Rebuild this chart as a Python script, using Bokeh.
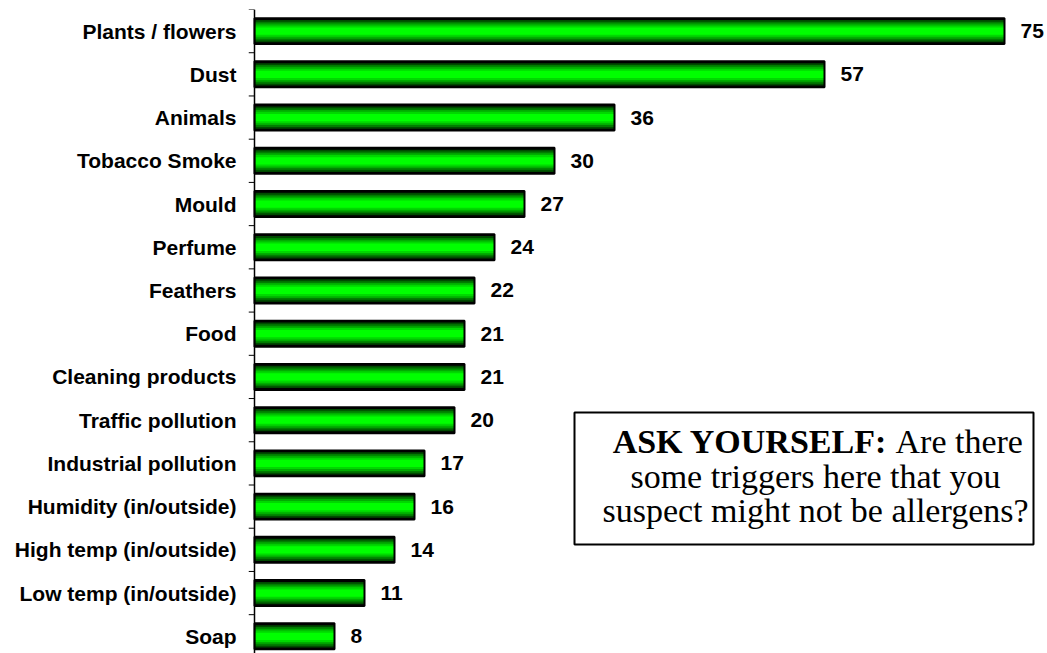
from bokeh.plotting import figure
from bokeh.models import Range1d, FixedTicker, BoxAnnotation, Label, ColumnDataSource, Span
from bokeh.core.properties import value
from bokeh.embed import file_html
from bokeh.resources import INLINE

# ---- data (top to bottom) ----
categories = ["Plants / flowers", "Dust", "Animals", "Tobacco Smoke", "Mould",
              "Perfume", "Feathers", "Food", "Cleaning products", "Traffic pollution",
              "Industrial pollution", "Humidity (in/outside)", "High temp (in/outside)",
              "Low temp (in/outside)", "Soap"]
values = [75, 57, 36, 30, 27, 24, 22, 21, 21, 20, 17, 16, 14, 11, 8]
value_labels = [str(v) for v in values]

n = len(categories)
ypos = [n - 1 - i for i in range(n)]

src = ColumnDataSource(dict(y=ypos, v=values, lab=value_labels,
                            lx=[v + 1.6 for v in values], cat=categories))

TICK = 0.6  # tick length in x units (10 px per unit)
p = figure(width=1047, height=653, output_backend="svg", toolbar_location=None,
           x_range=Range1d(-TICK, 79.3), y_range=Range1d(-0.398, n - 0.5),
           x_axis_location=None, y_axis_location="left",
           min_border_left=248, min_border_right=0,
           min_border_top=9, min_border_bottom=0)
p.outline_line_color = None
p.xgrid.visible = False
p.ygrid.visible = False
p.background_fill_color = "white"

# gradient-like bars: layered bars of decreasing height
BAR_H = 0.6
layers = [(1.00, "#000000"), (0.86, "#004a00"), (0.72, "#007c00"),
          (0.58, "#00ad00"), (0.44, "#00d800"), (0.28, "#00ff00")]
for frac, col in layers:
    p.hbar(y="y", left=0, right="v", height=BAR_H * frac, source=src,
           fill_color=col, line_color=None)
p.hbar(y="y", left=0, right="v", height=BAR_H, source=src,
       fill_alpha=0, line_color="black", line_width=2)

# value labels
p.text(x="lx", y="y", text="lab", source=src, text_align="left",
       text_baseline="middle", text_font=value("Liberation Sans"),
       text_font_style="bold", text_font_size="21px", text_color="black")

# axis line at zero and tick marks between categories
p.add_layout(Span(location=0, dimension="height", line_color="black", line_width=1.5))
bounds = [k - 0.5 for k in range(n + 1)]
p.segment(x0=[-TICK] * len(bounds), x1=[0] * len(bounds), y0=bounds, y1=bounds,
          line_color="black", line_width=1)

# category labels at bar centres
ax = p.yaxis[0]
ax.ticker = FixedTicker(ticks=ypos)
ax.major_label_overrides = {y: c for y, c in zip(ypos, categories)}
ax.major_tick_out = 0
ax.major_tick_in = 0
ax.minor_tick_out = 0
ax.minor_tick_in = 0
ax.axis_line_color = None
ax.major_label_standoff = 12
ax.major_label_text_font = "Liberation Sans"
ax.major_label_text_font_style = "bold"
ax.major_label_text_font_size = "21px"
ax.major_label_text_color = "black"

# callout box
box = BoxAnnotation(left=32.0, right=77.9, top=5.18, bottom=2.125,
                    fill_color="white", fill_alpha=1.0,
                    line_color="black", line_alpha=1.0, line_width=2)
p.add_layout(box)

fs = "34px"
l1, l2, l3 = 4.51, 3.70, 2.91
p.add_layout(Label(x=63.3, y=l1, text="ASK YOURSELF:", text_align="right",
                   text_baseline="alphabetic", text_font="Liberation Serif",
                   text_font_style="bold", text_font_size=fs, text_color="black"))
p.add_layout(Label(x=64.1, y=l1, text="Are there", text_align="left",
                   text_baseline="alphabetic", text_font="Liberation Serif",
                   text_font_size=fs, text_color="black"))
p.add_layout(Label(x=56.1, y=l2, text="some triggers here that you", text_align="center",
                   text_baseline="alphabetic", text_font="Liberation Serif",
                   text_font_size=fs, text_color="black"))
p.add_layout(Label(x=56.1, y=l3, text="suspect might not be allergens?", text_align="center",
                   text_baseline="alphabetic", text_font="Liberation Serif",
                   text_font_size=fs, text_color="black"))

open("out.html", "w").write(file_html(p, INLINE))
